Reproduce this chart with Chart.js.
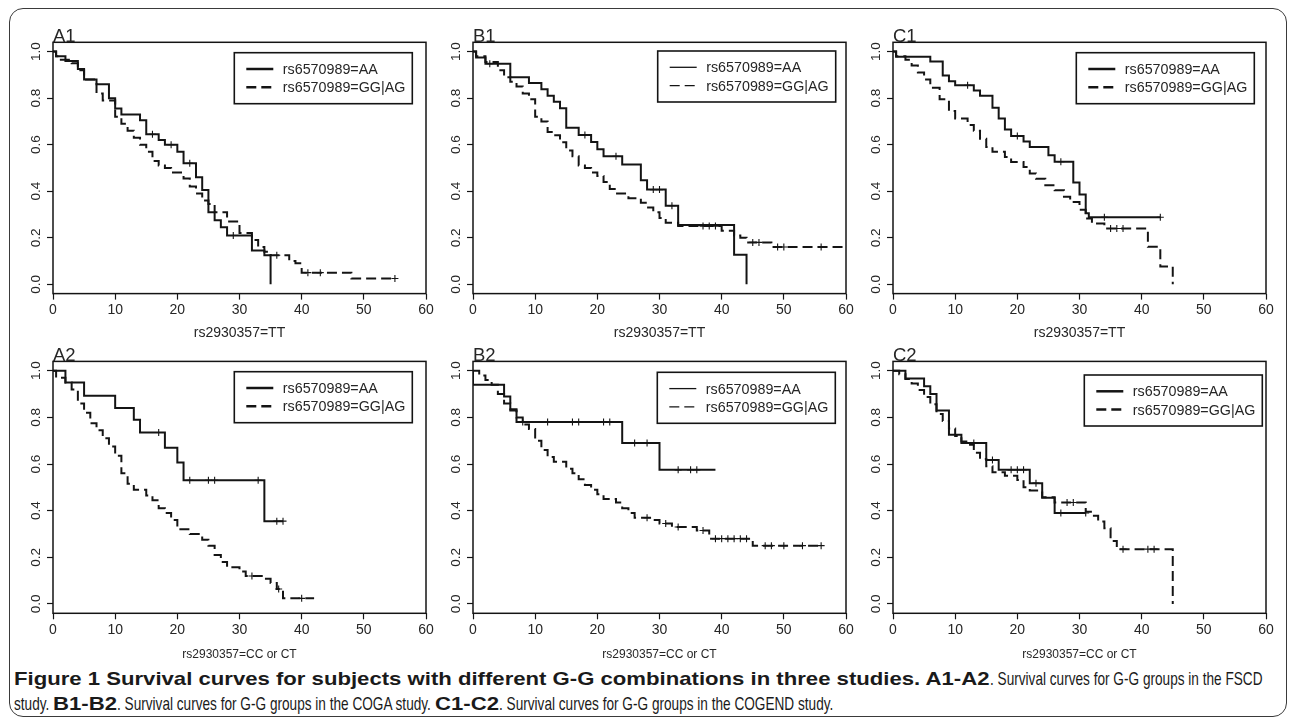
<!DOCTYPE html>
<html><head><meta charset="utf-8">
<script src="https://cdn.jsdelivr.net/npm/chart.js@4/dist/chart.umd.min.js"></script>
<style>
html,body{margin:0;padding:0;background:#fff;}
body{width:1290px;height:723px;overflow:hidden;position:relative;font-family:"Liberation Sans",Arial,sans-serif;}
.frame{position:absolute;left:9px;top:8px;width:1278px;height:709px;border:1.5px solid #3a3a3a;border-radius:14px;box-sizing:border-box;}
canvas{position:absolute;}
.cap{position:absolute;left:14px;white-space:nowrap;font-family:"Liberation Sans",Arial,sans-serif;font-size:19px;line-height:19px;color:#1a1a1a;}
.seg{display:inline-block;white-space:pre;overflow:visible;vertical-align:top;}
.seg .in{display:inline-block;white-space:pre;transform-origin:0 0;}
.seg.b{font-weight:bold;}
</style></head><body>
<div class="frame"></div>
<div class="cap" id="cap1" style="top:669px"><span class="seg b"><span class="in">Figure 1 Survival curves for subjects with different G-G combinations in three studies. A1-A2</span></span><span class="seg"><span class="in">. Survival curves for G-G groups in the FSCD</span></span></div>
<div class="cap" id="cap2" style="top:694px"><span class="seg"><span class="in">study. </span></span><span class="seg b"><span class="in">B1-B2</span></span><span class="seg"><span class="in">. Survival curves for G-G groups in the COGA study. </span></span><span class="seg b"><span class="in">C1-C2</span></span><span class="seg"><span class="in">. Survival curves for G-G groups in the COGEND study.</span></span></div>
<script>
// ---------- labels ----------
const panelNames = ['A1','B1','C1','A2','B2','C2'];
const xTitles = ['rs2930357=TT','rs2930357=TT','rs2930357=TT','rs2930357=CC or CT','rs2930357=CC or CT','rs2930357=CC or CT'];
const legendLabels = ['rs6570989=AA','rs6570989=GG|AG'];
const xTicks = [0,10,20,30,40,50,60];
const yTicks = [0,0.2,0.4,0.6,0.8,1.0];

// ---------- data: event times, survival after event, censor times, last follow-up ----------
const A1_AA_t = [0,0.5,2,4,5,7,9,10,11,14,15,17,18,20,21,23,24,25,26,27,28,32,34,35];
const A1_AA_s = [1,0.98,0.96,0.925,0.88,0.86,0.80,0.755,0.73,0.705,0.645,0.62,0.60,0.57,0.52,0.46,0.405,0.31,0.275,0.245,0.21,0.145,0.125,0];
const A1_AA_c = [16,19,22,29];
const A1_AA_end = 35;
const A1_GG_t = [0,0.5,1,3,4,5,7,8,10,11,12,13,14,15,16,17,18,19,21,22,23,24,25,26,28,30,32,33,34,35,38,39,40,48];
const A1_GG_s = [1,0.98,0.965,0.95,0.92,0.88,0.82,0.79,0.72,0.69,0.66,0.63,0.60,0.57,0.53,0.51,0.50,0.48,0.455,0.42,0.39,0.36,0.345,0.31,0.27,0.22,0.19,0.16,0.14,0.125,0.10,0.09,0.05,0.025];
const A1_GG_c = [36,41,43,55];
const A1_GG_end = 55;

const B1_AA_t = [0,0.5,2,6,9,11,12,13,14,15,17,19,20,21,24,27,28,31,33,42,44];
const B1_AA_s = [1,0.975,0.948,0.89,0.865,0.838,0.81,0.785,0.757,0.673,0.642,0.612,0.58,0.55,0.515,0.447,0.407,0.338,0.255,0.127,0];
const B1_AA_c = [2.7,18,23,29,30,32];
const B1_AA_end = 44;
const B1_GG_t = [0,0.5,2,4,5,6,7,8,9,10,11,12,13,14,15,16,17,18,19,20,21,22,23,25,27,28,29,30,31,33,40,42,43,44,48];
const B1_GG_s = [1,0.98,0.955,0.92,0.89,0.87,0.85,0.82,0.795,0.72,0.70,0.655,0.64,0.61,0.575,0.55,0.51,0.50,0.48,0.465,0.44,0.41,0.39,0.37,0.35,0.33,0.31,0.285,0.265,0.25,0.23,0.21,0.20,0.18,0.16];
const B1_GG_c = [37,38,39,45,46,49,50,56];
const B1_GG_end = 60;

const C1_AA_t = [0,0.5,6,8,9,10,13,14,16,17,18,19,21,22,25,26,29,30,31,31.5];
const C1_AA_s = [1,0.978,0.957,0.897,0.873,0.855,0.833,0.81,0.759,0.712,0.665,0.637,0.614,0.59,0.555,0.527,0.437,0.386,0.305,0.288];
const C1_AA_c = [12,20,27,34,43];
const C1_AA_end = 43;
const C1_GG_t = [0,0.5,2,3,4,5,6,7.5,9,10,12,13,14,15,16,18,19,21,22,23,24.5,26,27.5,28.5,30,31,32,34,41,43,45];
const C1_GG_s = [1,0.98,0.965,0.94,0.91,0.88,0.845,0.795,0.745,0.712,0.685,0.66,0.626,0.59,0.57,0.547,0.526,0.504,0.476,0.454,0.426,0.404,0.376,0.354,0.32,0.283,0.261,0.24,0.161,0.076,0];
const C1_GG_c = [35,36,37];
const C1_GG_end = 45;

const A2_AA_t = [0,2,5,10,13,14,18,20,21,34];
const A2_AA_s = [1,0.95,0.893,0.84,0.79,0.735,0.67,0.607,0.53,0.355];
const A2_AA_c = [17,22,25,26,33,36,37];
const A2_AA_end = 37;
const A2_GG_t = [0,0.5,2,3,4,5,6,7,8,9,10,11,12,13,15,16,17,18,19,20,22,24,25,26,27,28,30,31,34,35,36,37];
const A2_GG_s = [1,0.97,0.95,0.92,0.86,0.82,0.775,0.745,0.71,0.675,0.635,0.56,0.515,0.49,0.465,0.445,0.41,0.39,0.36,0.32,0.30,0.275,0.25,0.21,0.18,0.157,0.139,0.12,0.108,0.09,0.064,0.024];
const A2_GG_c = [32,36.3,40];
const A2_GG_end = 42;

const B2_AA_t = [0,0,5,6,7,24,30];
const B2_AA_s = [1,0.94,0.89,0.835,0.78,0.69,0.575];
const B2_AA_c = [8,12,16,17,21,22,26,28,33,35,36];
const B2_AA_end = 39;
const B2_GG_t = [0,1,2,3,4,5,6,7,8,9,10,11,12,13,15,16,17,18,19,20,21,23,24,25,26,29,30,32,36,38,45];
const B2_GG_s = [1,0.98,0.96,0.94,0.90,0.86,0.83,0.80,0.77,0.75,0.70,0.66,0.63,0.61,0.58,0.56,0.535,0.51,0.49,0.47,0.45,0.435,0.41,0.39,0.37,0.36,0.345,0.33,0.315,0.28,0.25];
const B2_GG_c = [28,31,33,37,39,40,41,42,43,44,47,48,50,53,56];
const B2_GG_end = 56;

const C2_AA_t = [0,2,5,6,7,9,11,15,17,22,24,26];
const C2_AA_s = [1,0.967,0.933,0.90,0.83,0.725,0.69,0.617,0.575,0.518,0.455,0.39];
const C2_AA_c = [13,16,19,20,21,23,27,31];
const C2_AA_end = 31;
const C2_GG_t = [0,1,2,3,4,5,6,7,8,9,10,11,12,13,14,15,16,18,20,21,22,24,26,31,32,33,34,35,36,45];
const C2_GG_s = [1,0.985,0.965,0.945,0.917,0.887,0.856,0.815,0.785,0.752,0.72,0.697,0.683,0.648,0.622,0.59,0.565,0.55,0.532,0.5,0.486,0.458,0.435,0.395,0.378,0.354,0.325,0.27,0.235,0];
const C2_GG_c = [28,29,37,41,42];
const C2_GG_end = 45;

// ---------- helpers ----------
const INK = '#141414', TXT = '#262626';
const FONT = '"Liberation Sans", Arial, sans-serif';
function stepPoints(t, s, end){
  const pts = t.map((v,i)=>({x:v, y:s[i]}));
  if (end > t[t.length-1]) pts.push({x:end, y:s[s.length-1]});
  return pts;
}
function survAt(t, s, x){ let v = s[0]; for (let i=0;i<t.length;i++){ if (t[i] <= x) v = s[i]; } return v; }
function censPoints(t, s, c){ return c.map(x=>({x:x, y:survAt(t,s,x)})); }

const series = {
  A1:{aa:[A1_AA_t,A1_AA_s,A1_AA_c,A1_AA_end], gg:[A1_GG_t,A1_GG_s,A1_GG_c,A1_GG_end]},
  B1:{aa:[B1_AA_t,B1_AA_s,B1_AA_c,B1_AA_end], gg:[B1_GG_t,B1_GG_s,B1_GG_c,B1_GG_end]},
  C1:{aa:[C1_AA_t,C1_AA_s,C1_AA_c,C1_AA_end], gg:[C1_GG_t,C1_GG_s,C1_GG_c,C1_GG_end]},
  A2:{aa:[A2_AA_t,A2_AA_s,A2_AA_c,A2_AA_end], gg:[A2_GG_t,A2_GG_s,A2_GG_c,A2_GG_end]},
  B2:{aa:[B2_AA_t,B2_AA_s,B2_AA_c,B2_AA_end], gg:[B2_GG_t,B2_GG_s,B2_GG_c,B2_GG_end]},
  C2:{aa:[C2_AA_t,C2_AA_s,C2_AA_c,C2_AA_end], gg:[C2_GG_t,C2_GG_s,C2_GG_c,C2_GG_end]}
};

// layout of the six panels
const rows = [{top:0, h:345, padTop:42.3, xh:47.8}, {top:345, h:320, padTop:16.4, xh:48.1}];
const colLeft = [0, 420, 840];
const legendPos = {
  A1:{dx:181.3, dy:10.4, lw:2.5}, B1:{dx:184.7, dy:8.7, lw:1.3}, C1:{dx:183.3, dy:10.4, lw:2.5},
  A2:{dx:181.3, dy:10.3, lw:2.5}, B2:{dx:184.3, dy:10.9, lw:1.3}, C2:{dx:191.3, dy:13.6, lw:2.5}
};

const panelPlugin = {
  id:'panelDeco',
  afterDraw(chart){
    const o = chart.options.plugins.panelDeco;
    const {ctx, chartArea:a} = chart;
    ctx.save();
    ctx.strokeStyle = INK; ctx.lineWidth = 1.5; ctx.setLineDash([]);
    ctx.strokeRect(a.left, a.top, a.right - a.left, a.bottom - a.top);
    ctx.fillStyle = TXT; ctx.font = '18.5px ' + FONT; ctx.textBaseline = 'alphabetic'; ctx.textAlign = 'left';
    ctx.fillText(o.name, a.left, a.top - 0.5);
    const x = a.left + o.dx, y = a.top + o.dy, w = 178, h = 51;
    ctx.lineWidth = 1.6; ctx.strokeRect(x, y, w, h);
    chart.data.datasets.slice(0,2).forEach((ds,i)=>{
      const yy = y + 16.3 + i*18.3;
      ctx.beginPath(); ctx.setLineDash(ds.borderDash || []); ctx.lineWidth = o.lw;
      ctx.moveTo(x + 12, yy); ctx.lineTo(x + 39, yy); ctx.stroke();
      ctx.setLineDash([]);
      ctx.font = '14.3px ' + FONT; ctx.textBaseline = 'middle';
      ctx.fillText(ds.label, x + 48.5, yy + 1);
    });
    ctx.restore();
  }
};

panelNames.forEach((name, idx)=>{
  const r = rows[Math.floor(idx/3)], left = colLeft[idx%3];
  const cv = document.createElement('canvas');
  cv.width = 440; cv.height = r.h;
  cv.style.left = left + 'px'; cv.style.top = r.top + 'px';
  cv.style.width = '440px'; cv.style.height = r.h + 'px';
  document.body.appendChild(cv);
  const S = series[name];
  const [at, as, ac, ae] = S.aa, [gt, gs, gc, ge] = S.gg;
  const tickGrid = {display:true, drawOnChartArea:false, drawTicks:true, tickLength:6, tickWidth:1.2, tickColor:INK};
  new Chart(cv, {
    type:'line',
    data:{datasets:[
      {label:legendLabels[0], data:stepPoints(at,as,ae), stepped:'before', borderColor:INK, borderWidth:2, pointRadius:0, fill:false, order:1},
      {label:legendLabels[1], data:stepPoints(gt,gs,ge), stepped:'before', borderColor:INK, borderWidth:2, borderDash:[10,5], pointRadius:0, fill:false, order:2},
      {type:'scatter', label:'c1', data:censPoints(at,as,ac), pointStyle:'cross', pointRadius:3.5, borderColor:INK, borderWidth:1.1, order:0},
      {type:'scatter', label:'c2', data:censPoints(gt,gs,gc), pointStyle:'cross', pointRadius:3.5, borderColor:INK, borderWidth:1.1, order:0}
    ]},
    options:{
      responsive:false, animation:false, devicePixelRatio:1, events:[],
      layout:{padding:{left:0, right:14, top:r.padTop, bottom:3.6}},
      plugins:{legend:{display:false}, tooltip:{enabled:false},
        panelDeco:{name:name, dx:legendPos[name].dx, dy:legendPos[name].dy, lw:legendPos[name].lw}},
      scales:{
        x:{type:'linear', min:0, max:60,
          afterBuildTicks:s=>{ s.ticks = xTicks.map(v=>({value:v})); },
          afterFit:s=>{ s.height = r.xh; },
          grid:tickGrid, border:{display:false},
          ticks:{color:TXT, font:{family:FONT, size:14}, padding:2, maxRotation:0, autoSkip:false, callback:v=>String(v)},
          title:{display:true, text:xTitles[idx], color:TXT, padding:0,
            font:{family:FONT, size: idx < 3 ? 14 : 12}}
        },
        y:{type:'linear', min:-0.04, max:1.04,
          afterBuildTicks:s=>{ s.ticks = yTicks.map(v=>({value:v})); },
          afterFit:s=>{ s.width = 53; },
          grid:tickGrid, border:{display:false},
          ticks:{color:TXT, font:{family:FONT, size:13.5}, padding:1, minRotation:90, maxRotation:90, crossAlign:'center', autoSkip:false, callback:v=>Number(v).toFixed(1)}
        }
      }
    },
    plugins:[panelPlugin]
  });
});

// caption: condense bold and regular runs so both lines end where the reference lines end
(function(){
  function widths(id){
    let b = 0, n = 0;
    document.getElementById(id).querySelectorAll('.seg').forEach(seg=>{
      const w = seg.querySelector('.in').getBoundingClientRect().width;
      if (seg.classList.contains('b')) b += w; else n += w;
    });
    return [b, n];
  }
  const [b1, n1] = widths('cap1'), [b2, n2] = widths('cap2');
  const L1 = 1262 - 14, L2 = 833 - 14;
  const det = b1*n2 - b2*n1;
  let fB = (L1*n2 - L2*n1) / det, fN = (b1*L2 - b2*L1) / det;
  if (!(fB > 0.5 && fB < 1.3 && fN > 0.5 && fN < 1.3)) { fB = fN = L1 / (b1 + n1); }
  document.querySelectorAll('.seg').forEach(seg=>{
    const inner = seg.querySelector('.in');
    const w = inner.getBoundingClientRect().width;
    const f = seg.classList.contains('b') ? fB : fN;
    seg.style.width = (w * f) + 'px';
    inner.style.transform = 'scaleX(' + f + ')';
  });
})();
</script>
</body></html>
